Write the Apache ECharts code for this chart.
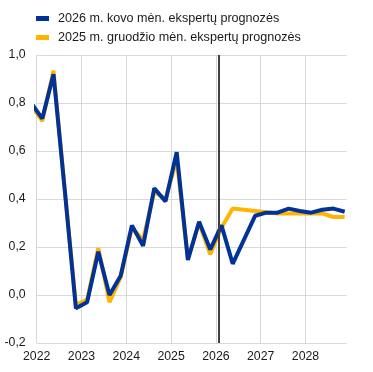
<!DOCTYPE html>
<html>
<head>
<meta charset="utf-8">
<script src="https://cdn.jsdelivr.net/npm/echarts@6/dist/echarts.min.js"></script>
<style>
html,body{margin:0;padding:0;background:#fff;}
#c{width:373px;height:372px;}
</style>
</head>
<body>
<div id="c"></div>
<script>
// Quarterly periods (first one lies just before the visible axis start)
var quarters = ['2021Q4',
  '2022Q1','2022Q2','2022Q3','2022Q4',
  '2023Q1','2023Q2','2023Q3','2023Q4',
  '2024Q1','2024Q2','2024Q3','2024Q4',
  '2025Q1','2025Q2','2025Q3','2025Q4',
  '2026Q1','2026Q2','2026Q3','2026Q4',
  '2027Q1','2027Q2','2027Q3','2027Q4',
  '2028Q1','2028Q2','2028Q3','2028Q4'];
var march2026 = [0.80,
  0.735, 0.92, 0.44, -0.055,
  -0.03, 0.18, 0.0, 0.08,
  0.29, 0.205, 0.445, 0.39,
  0.595, 0.146, 0.305, 0.19,
  0.29, 0.13, 0.23, 0.33,
  0.343, 0.343, 0.36, 0.35,
  0.343, 0.355, 0.36, 0.347];
var december2025 = [0.79,
  0.725, 0.935, 0.44, -0.04,
  -0.02, 0.195, -0.03, 0.075,
  0.28, 0.23, 0.43, 0.40,
  0.565, 0.15, 0.30, 0.17,
  0.28, 0.36, 0.355, 0.35,
  0.345, 0.34, 0.34, 0.34,
  0.34, 0.34, 0.325, 0.325];
var seriesNames = ['2026 m. kovo mėn. ekspertų prognozės', '2025 m. gruodžio mėn. ekspertų prognozės'];
var yTicks = [-0.2, 0.0, 0.2, 0.4, 0.6, 0.8, 1.0];
var xYears = [2022, 2023, 2024, 2025, 2026, 2027, 2028];
var cutoff = 2026.07;

function qToNum(q) { // mid-quarter position
  var y = parseInt(q.slice(0, 4), 10), n = parseInt(q.slice(5), 10);
  return y + (n - 0.5) / 4;
}
function pairs(vals) { return quarters.map(function (q, i) { return [qToNum(q), vals[i]]; }); }

var chart = echarts.init(document.getElementById('c'), null, {renderer: 'canvas'});
var font = 'Liberation Sans, Arial, sans-serif';
chart.setOption({
  animation: false,
  textStyle: {fontFamily: font},
  legend: {
    orient: 'vertical', left: 31, top: 7, itemGap: 6,
    itemWidth: 13, itemHeight: 5, icon: 'rect',
    data: [seriesNames[0], seriesNames[1]],
    textStyle: {fontFamily: font, fontSize: 12.6, color: '#1a1a1a', padding: [3, 0, 0, 4]}
  },
  grid: {left: 36.7, right: 26.3, top: 55, bottom: 29, containLabel: false},
  xAxis: {
    type: 'value', min: xYears[0], max: 2028.92, interval: 1,
    axisLine: {show: false}, axisTick: {show: false},
    splitLine: {show: true, showMaxLine: false, lineStyle: {color: '#d9d9d9', width: 1}},
    axisLabel: {
      showMaxLabel: false, margin: 8, fontSize: 12.3, color: '#1a1a1a', fontFamily: font,
      formatter: function (v) { return xYears.indexOf(Math.round(v)) >= 0 && Math.abs(v - Math.round(v)) < 1e-6 ? String(Math.round(v)) : ''; }
    }
  },
  yAxis: {
    type: 'value', min: yTicks[0], max: yTicks[yTicks.length - 1], interval: 0.2,
    axisLine: {show: false}, axisTick: {show: false},
    splitLine: {show: true, lineStyle: {color: '#d9d9d9', width: 1}},
    axisLabel: {
      margin: 11, fontSize: 12.3, color: '#1a1a1a', fontFamily: font,
      formatter: function (v) { return v.toFixed(1).replace('.', ','); }
    }
  },
  series: [
    {
      name: seriesNames[1], type: 'line', data: pairs(december2025),
      showSymbol: false, symbol: 'none', clip: true,
      itemStyle: {color: '#ffb400'},
      lineStyle: {color: '#ffb400', width: 4}
    },
    {
      name: seriesNames[0], type: 'line', data: pairs(march2026),
      showSymbol: false, symbol: 'none', clip: true,
      itemStyle: {color: '#003299'},
      lineStyle: {color: '#003299', width: 4},
      markLine: {
        silent: true, symbol: 'none', label: {show: false},
        lineStyle: {color: '#404040', width: 2, type: 'solid'},
        data: [{xAxis: cutoff}]
      }
    }
  ]
});
</script>
</body>
</html>
